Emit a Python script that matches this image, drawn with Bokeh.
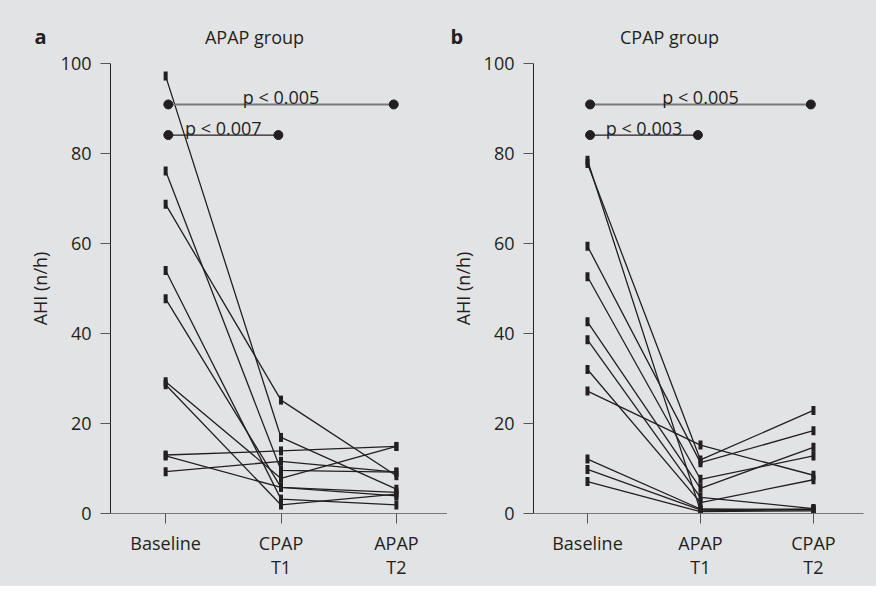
from bokeh.plotting import figure
from bokeh.layouts import row, column
from bokeh.models import Range1d, FixedTicker
from bokeh.core.properties import value
from bokeh.embed import file_html
from bokeh.resources import INLINE

# ---------------- data ----------------
# Panel a: APAP group (Baseline, CPAP T1, APAP T2)
a_categories = ["Baseline", "CPAP\nT1", "APAP\nT2"]
a_baseline = [97.2, 76.1, 68.7, 54.0, 47.7, 29.3, 28.6, 13.0, 12.8, 9.3]
a_t1 = [16.9, 9.6, 25.2, 3.2, 5.8, 7.8, 1.9, 13.9, 5.8, 11.6]
a_t2 = [5.4, 9.2, 8.4, 1.9, 4.7, 14.9, 4.3, 14.9, 3.9, 9.2]
a_sig_labels = ["p < 0.005", "p < 0.007"]
a_sig_levels = [90.9, 84.1]

# Panel b: CPAP group (Baseline, APAP T1, CPAP T2)
b_categories = ["Baseline", "APAP\nT1", "CPAP\nT2"]
b_baseline = [78.5, 77.8, 59.4, 52.6, 42.6, 38.6, 32.0, 27.2, 12.1, 9.8, 7.1]
b_t1 = [0.6, 11.9, 11.3, 7.6, 5.6, 3.6, 2.4, 15.2, 1.0, 0.8, 0.4]
b_t2 = [0.9, 22.9, 18.4, 12.8, 14.7, 1.1, 7.5, 8.5, 0.8, 1.0, 0.6]
b_sig_labels = ["p < 0.005", "p < 0.003"]
b_sig_levels = [90.9, 84.1]

y_ticks = [0, 20, 40, 60, 80, 100]
panel_letters = ["a", "b"]
panel_titles = ["APAP group", "CPAP group"]

BG = "#e2e3e5"
INK = "#231f20"
GRAY = "#77787b"
FONT = "Open Sans"
FS = "18px"
TOTAL_W = 876
HEADER_H = 51
PANEL_H = 535


def style_blank(p):
    p.background_fill_color = BG
    p.border_fill_color = BG
    p.outline_line_color = None
    p.grid.visible = False


def panel(cats, base, t1, t2, sig_labels, sig_levels, width, bl, br):
    p = figure(width=width, height=PANEL_H, output_backend="svg", toolbar_location=None,
               x_range=Range1d(-0.478, 2.443), y_range=Range1d(0, 100),
               min_border_left=bl, min_border_right=br,
               min_border_top=12, min_border_bottom=73)
    style_blank(p)

    p.yaxis.ticker = FixedTicker(ticks=y_ticks)
    p.xaxis.ticker = FixedTicker(ticks=[0, 1, 2])
    p.xaxis.major_label_overrides = {0: cats[0], 1: cats[1], 2: cats[2]}
    p.yaxis.axis_label = "AHI (n/h)"
    for ax in (p.xaxis[0], p.yaxis[0]):
        ax.major_tick_in = 0
        ax.major_tick_out = 10
        ax.minor_tick_in = 0
        ax.minor_tick_out = 0
        ax.major_label_text_font = FONT
        ax.major_label_text_font_size = FS
        ax.major_label_text_color = INK
        ax.axis_label_text_font = FONT
        ax.axis_label_text_font_size = FS
        ax.axis_label_text_font_style = "normal"
        ax.axis_label_text_color = INK
        ax.major_tick_line_color = "#555658"
    p.yaxis.axis_line_color = INK
    p.xaxis.axis_line_color = GRAY
    p.yaxis.major_label_standoff = 9
    p.yaxis.axis_label_standoff = 6
    p.xaxis.major_label_standoff = 7
    p.xaxis.major_label_text_line_height = 1.0

    # subject lines
    xs = [[0, 1, 2] for _ in base]
    ys = [[b, m, e] for b, m, e in zip(base, t1, t2)]
    p.multi_line(xs, ys, line_color=INK, line_width=1.3)
    allx = [0] * len(base) + [1] * len(t1) + [2] * len(t2)
    ally = list(base) + list(t1) + list(t2)
    p.rect(allx, ally, width=4, height=9, width_units="screen", height_units="screen",
           fill_color=INK, line_color=None)

    # significance bars
    spans = [(0.023, 1.977), (0.023, 0.977)]
    colors = [GRAY, INK]
    widths = [2, 1.3]
    for (x0, x1), lev, lab, c, w in zip(spans, sig_levels, sig_labels, colors, widths):
        p.line([x0, x1], [lev, lev], line_color=c, line_width=w)
        p.scatter([x0, x1], [lev, lev], size=9, color=INK)
        p.text([(x0 + x1) / 2], [lev + 1.6], text=[lab], text_font=value(FONT),
               text_font_size=FS, text_color=INK, text_align="center",
               text_baseline="alphabetic")
    return p


# header strip with panel letters and titles (pixel-like coordinates)
header = figure(width=TOTAL_W, height=HEADER_H, output_backend="svg", toolbar_location=None,
                x_range=Range1d(0, TOTAL_W), y_range=Range1d(0, HEADER_H),
                x_axis_location=None, y_axis_location=None, min_border=0)
style_blank(header)
header.text([34, 450], [15, 15], text=panel_letters, text_font=value(FONT),
            text_font_size="20px", text_font_style="bold", text_color=INK,
            text_align="left", text_baseline="alphabetic")
header.text([254, 669], [15, 15], text=panel_titles, text_font=value(FONT),
            text_font_size=FS, text_color=INK, text_align="center",
            text_baseline="alphabetic")

pa = panel(a_categories, a_baseline, a_t1, a_t2, a_sig_labels, a_sig_levels, 447, 110, 0)
pb = panel(b_categories, b_baseline, b_t1, b_t2, b_sig_labels, b_sig_levels, 429, 80, 13)

layout = column(header, row(pa, pb, spacing=0, styles={"background-color": BG}),
                spacing=0, styles={"background-color": BG})
open("out.html", "w").write(file_html(layout, INLINE))
